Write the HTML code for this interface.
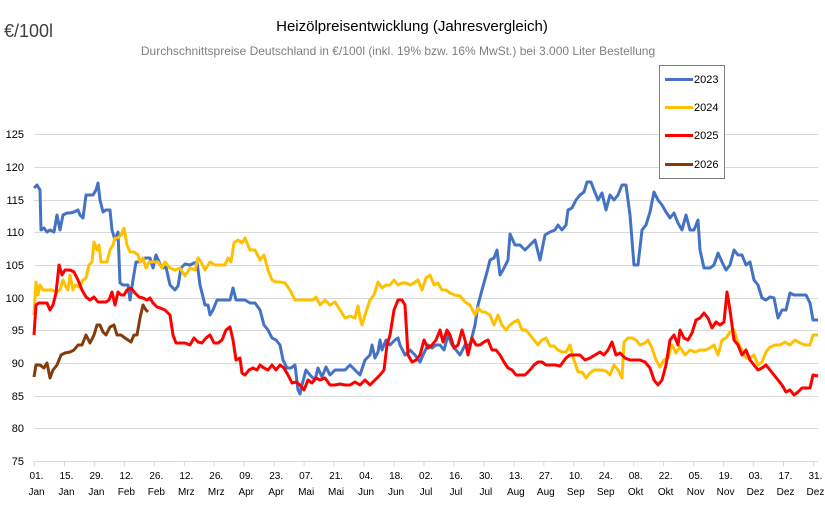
<!DOCTYPE html>
<html><head><meta charset="utf-8"><style>
body{margin:0;background:#fff;}
svg{display:block;font-family:"Liberation Sans",sans-serif;}
</style></head><body>
<svg width="825" height="516" viewBox="0 0 825 516">
<rect width="825" height="516" fill="#fff"/>
<text x="4" y="37" font-size="18" fill="#404040">€/100l</text>
<text x="412" y="31" font-size="15" text-anchor="middle" fill="#000">Heizölpreisentwicklung (Jahresvergleich)</text>
<text x="398" y="55" font-size="12" text-anchor="middle" fill="#7f7f7f">Durchschnittspreise Deutschland in €/100l (inkl. 19% bzw. 16%  MwSt.) bei 3.000 Liter Bestellung</text>
<g stroke="#d9d9d9" stroke-width="1">
<line x1="34" x2="818" y1="134.5" y2="134.5"/><line x1="34" x2="818" y1="167.5" y2="167.5"/>
<line x1="34" x2="818" y1="200.5" y2="200.5"/><line x1="34" x2="818" y1="232.5" y2="232.5"/>
<line x1="34" x2="818" y1="265.5" y2="265.5"/><line x1="34" x2="818" y1="298.5" y2="298.5"/>
<line x1="34" x2="818" y1="330.5" y2="330.5"/><line x1="34" x2="818" y1="363.5" y2="363.5"/>
<line x1="34" x2="818" y1="396.5" y2="396.5"/><line x1="34" x2="818" y1="428.5" y2="428.5"/>
<line x1="34" x2="818" y1="461.5" y2="461.5"/>
</g>
<g font-size="11" fill="#000" text-anchor="end">
<text x="24" y="138">125</text><text x="24" y="171">120</text><text x="24" y="204">115</text>
<text x="24" y="236">110</text><text x="24" y="269">105</text><text x="24" y="302">100</text>
<text x="24" y="334">95</text><text x="24" y="367">90</text><text x="24" y="400">85</text>
<text x="24" y="432">80</text><text x="24" y="465">75</text>
</g>
<g id="ticks" stroke="#d9d9d9"></g>
<g id="xl" font-size="10" fill="#000" text-anchor="middle"></g>
<g fill="none" stroke-width="3" stroke-linejoin="round">
<polyline stroke="#4472c4" points="34,188 37,185 40,190 41,230 44,228 47,232 50,230 54,232 57,215 60,230 63,215 67,213 70,213 74,212 78,210 80,215 83,218 86,195 90,195 93,195 96,190 98,183 100,200 103,212 106,210 110,210 112,230 115,240 118,232 120,283 123,285 128,285 130,300 133,280 136,262 140,262 145,258 150,258 153,268 156,255 160,264 163,268 166,267 170,285 175,290 178,286 181,268 185,264 190,265 194,263 197,262 200,285 205,305 208,305 210,315 213,310 217,300 223,300 230,300 233,288 236,300 240,300 245,300 250,303 255,303 260,310 264,325 268,330 272,338 276,340 280,345 283,360 287,368 291,368 295,365 298,390 300,394 302,385 306,370 310,375 315,380 318,368 322,377 326,367 330,375 335,370 340,370 345,370 350,365 355,370 360,375 365,360 370,355 372,345 375,358 378,352 380,340 382,350 386,340 390,345 395,340 398,338 400,345 405,355 410,350 415,355 420,362 423,355 428,345 432,348 436,345 440,345 444,350 448,335 452,345 456,350 460,355 465,345 470,345 475,325 478,305 482,290 487,272 490,260 494,258 497,250 500,275 503,270 508,260 510,234 515,245 520,245 525,250 530,245 535,240 540,260 545,235 550,232 555,230 558,225 562,230 566,225 568,210 572,208 576,200 580,195 584,192 587,182 591,182 594,190 598,200 602,193 606,210 610,195 614,200 618,195 622,185 626,185 630,215 634,265 638,265 642,230 646,225 650,212 654,192 658,200 662,205 666,212 670,218 674,213 678,223 682,230 686,215 690,230 694,230 698,220 700,250 704,268 710,268 714,265 718,253 722,262 726,270 730,265 734,250 738,255 742,255 746,265 750,262 754,280 758,285 762,298 766,300 770,297 774,298 778,318 782,310 786,310 790,293 794,295 798,295 802,295 806,295 810,303 813,320 818,320"/>
<polyline stroke="#ffc000" points="34,315 36,282 38,295 40,285 43,290 47,290 52,290 56,292 60,290 63,280 65,285 68,290 70,275 73,290 75,285 79,287 83,280 86,278 89,265 92,262 94,242 97,250 99,245 101,262 104,262 107,262 110,250 113,245 115,238 118,238 121,235 124,228 127,245 130,252 134,252 138,255 140,262 143,258 146,268 149,262 153,262 158,262 162,268 165,262 170,268 175,270 180,268 185,276 190,268 195,270 198,258 201,262 205,270 210,262 215,265 220,265 225,265 228,258 231,262 234,243 238,240 242,243 245,238 250,250 255,250 260,260 264,255 268,270 272,280 276,282 280,282 285,283 290,290 295,300 300,300 305,300 310,300 313,300 316,297 320,305 325,300 330,305 335,302 340,310 345,318 350,316 355,318 358,306 360,318 362,325 366,312 370,300 374,295 378,282 382,288 386,285 390,285 394,280 398,285 402,283 406,283 410,285 414,283 418,280 422,290 426,278 430,275 434,285 438,283 442,290 446,290 450,293 455,295 460,296 465,302 470,305 475,315 478,308 482,312 485,312 490,315 494,325 498,315 502,325 506,330 510,325 514,322 518,320 522,330 526,330 530,335 534,340 538,345 542,340 546,338 550,346 554,346 558,350 562,352 566,352 570,345 574,360 578,372 582,372 586,378 590,373 594,370 598,370 602,370 606,371 610,375 614,365 618,370 622,378 624,342 628,338 632,338 636,340 640,345 645,343 648,340 652,348 656,360 660,367 664,360 668,358 672,345 676,353 680,347 685,355 690,350 695,352 700,350 705,350 710,348 714,345 718,355 722,340 726,338 730,332 734,330 738,343 742,350 746,358 750,358 754,355 758,365 762,362 766,352 770,347 775,345 780,345 785,342 790,345 795,340 800,343 805,345 810,345 813,335 818,335"/>
<polyline stroke="#ff0000" points="34,335 36,305 39,303 43,303 47,303 50,310 53,305 56,293 59,265 62,275 65,270 70,270 74,272 78,280 82,290 86,297 90,300 94,297 98,302 102,302 106,302 109,300 112,292 115,305 118,292 121,295 124,295 127,290 131,288 135,293 139,297 143,298 147,300 150,298 153,303 157,307 160,308 165,310 170,315 173,335 176,343 180,343 185,343 190,345 194,338 198,342 202,343 206,338 210,335 214,343 218,343 222,340 226,330 230,327 233,340 236,360 240,358 242,373 245,375 249,370 253,368 257,370 260,365 264,368 268,370 272,365 276,370 280,365 284,368 288,375 292,383 296,382 300,385 304,390 308,380 312,383 316,378 320,380 325,378 330,385 335,385 340,384 345,385 350,385 355,382 360,385 365,380 370,385 375,380 380,375 384,370 387,345 390,335 394,310 398,300 402,300 405,305 408,355 412,362 416,360 420,355 424,340 428,348 432,345 436,340 440,330 443,342 447,330 450,335 454,348 458,345 462,330 465,340 468,355 472,338 476,345 480,345 484,342 488,340 492,350 496,350 500,355 504,362 508,368 512,370 516,375 520,375 525,375 530,370 534,365 538,362 542,362 546,365 550,365 555,365 560,366 566,358 570,355 575,355 580,355 585,360 590,358 595,355 600,352 604,355 608,350 612,342 616,355 620,353 625,358 630,360 635,360 640,360 645,362 650,368 654,380 658,385 662,380 666,365 670,340 674,335 678,345 680,330 684,338 688,340 692,333 696,320 700,318 704,313 708,318 712,328 716,322 720,325 724,322 727,292 730,310 734,340 738,345 742,355 746,350 750,360 754,365 758,370 762,368 766,365 770,370 774,375 778,380 782,385 786,392 790,390 794,395 798,392 802,388 806,388 810,388 813,375 818,376"/>
<polyline stroke="#843c0c" points="34,377 36,365 40,365 44,368 47,363 50,378 53,370 57,365 61,355 65,353 70,352 74,350 78,345 82,345 86,335 90,343 94,335 97,325 100,325 103,332 106,335 110,327 114,325 117,335 121,335 125,338 128,340 131,342 134,335 137,335 140,318 143,305 146,310 148,312"/>
</g>
<rect x="659.5" y="65.5" width="65" height="113" fill="#fff" stroke="#7f7f7f"/>
<g stroke-width="3">
<line x1="665" x2="693" y1="79.5" y2="79.5" stroke="#4472c4"/>
<line x1="665" x2="693" y1="107.5" y2="107.5" stroke="#ffc000"/>
<line x1="665" x2="693" y1="135.5" y2="135.5" stroke="#ff0000"/>
<line x1="665" x2="693" y1="164.5" y2="164.5" stroke="#843c0c"/>
</g>
<g font-size="11" fill="#000">
<text x="694" y="83">2023</text><text x="694" y="111">2024</text>
<text x="694" y="139">2025</text><text x="694" y="168">2026</text>
</g>
<script>
var d=["01.","15.","29.","12.","26.","12.","26.","09.","23.","07.","21.","04.","18.","02.","16.","30.","13.","27.","10.","24.","08.","22.","05.","19.","03.","17.","31."];
var m=["Jan","Jan","Jan","Feb","Feb","Mrz","Mrz","Apr","Apr","Mai","Mai","Jun","Jun","Jul","Jul","Jul","Aug","Aug","Sep","Sep","Okt","Okt","Nov","Nov","Dez","Dez","Dez"];
var t=document.getElementById("ticks"),l=document.getElementById("xl"),ns="http://www.w3.org/2000/svg";
for(var i=0;i<27;i++){var x=34.5+i*29.96;
var ln=document.createElementNS(ns,"line");ln.setAttribute("x1",x);ln.setAttribute("x2",x);ln.setAttribute("y1",461);ln.setAttribute("y2",466);t.appendChild(ln);
var a=document.createElementNS(ns,"text");a.setAttribute("x",x+2);a.setAttribute("y",479);a.textContent=d[i];l.appendChild(a);
var b=document.createElementNS(ns,"text");b.setAttribute("x",x+2);b.setAttribute("y",495);b.textContent=m[i];l.appendChild(b);}
</script>
</svg>
</body></html>
